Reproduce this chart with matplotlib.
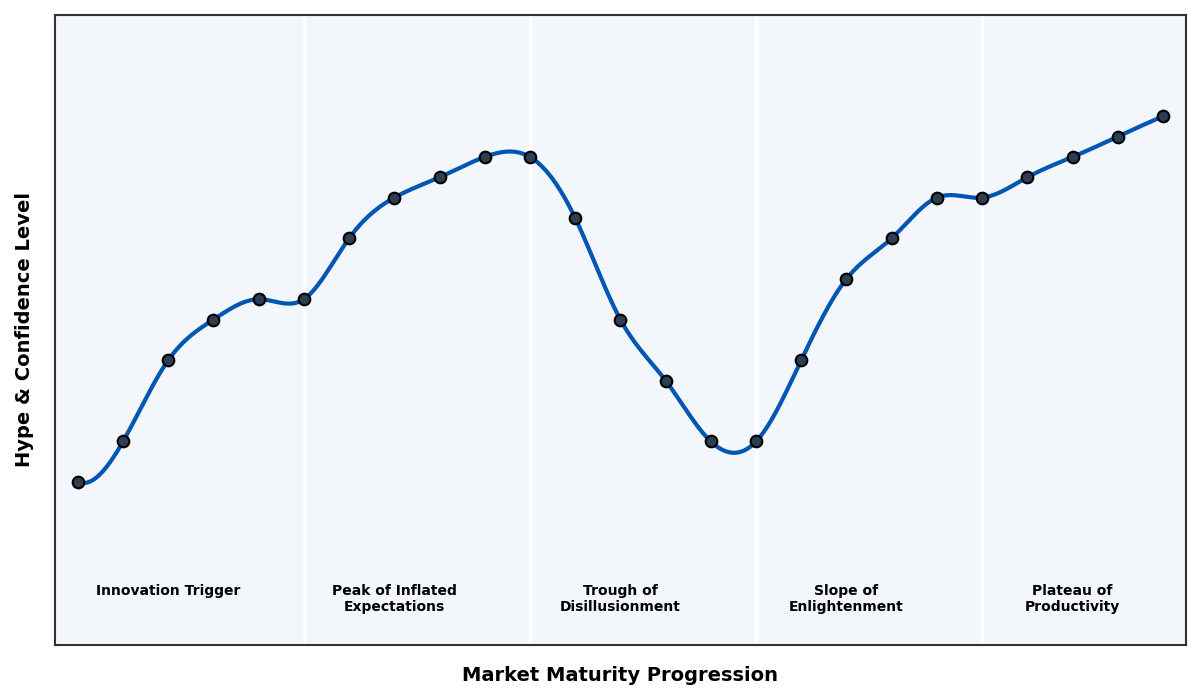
import numpy as np
import matplotlib
matplotlib.use("Agg")
from matplotlib import pyplot as plt

# stages of the hype cycle
stages = ["Innovation Trigger", "Peak of Inflated\nExpectations", "Trough of\nDisillusionment",
          "Slope of\nEnlightenment", "Plateau of\nProductivity"]
stage_centers = [2, 7, 12, 17, 22]
stage_bounds = [5, 10, 15, 20]

steps = list(range(25))
hype = [10, 20, 40, 50, 55, 55, 70, 80, 85, 90, 90, 75, 50, 35, 20,
        20, 40, 60, 70, 80, 80, 85, 90, 95, 100]


def smooth_curve(x, y, xs):
    # cubic spline with not-a-knot ends
    x = np.asarray(x, float)
    y = np.asarray(y, float)
    n = len(x)
    h = np.diff(x)
    A = np.zeros((n, n))
    b = np.zeros(n)
    A[0, 0], A[0, 1], A[0, 2] = h[1], -(h[0] + h[1]), h[0]
    A[-1, -3], A[-1, -2], A[-1, -1] = h[-1], -(h[-2] + h[-1]), h[-2]
    for i in range(1, n - 1):
        A[i, i - 1] = h[i - 1]
        A[i, i] = 2 * (h[i - 1] + h[i])
        A[i, i + 1] = h[i]
        b[i] = 3 * ((y[i + 1] - y[i]) / h[i] - (y[i] - y[i - 1]) / h[i - 1])
    c = np.linalg.solve(A, b)
    idx = np.clip(np.searchsorted(x, xs) - 1, 0, n - 2)
    dx = xs - x[idx]
    bb = (y[idx + 1] - y[idx]) / h[idx] - h[idx] * (2 * c[idx] + c[idx + 1]) / 3
    d = (c[idx + 1] - c[idx]) / (3 * h[idx])
    return y[idx] + bb * dx + c[idx] * dx ** 2 + d * dx ** 3


fig, ax = plt.subplots(figsize=(12, 7), dpi=100)
fig.subplots_adjust(left=0.046, right=0.988, top=0.979, bottom=0.079)
ax.set_facecolor("#f3f6fa")

for xb in stage_bounds:
    ax.axvline(xb, color="white", linewidth=2, zorder=1)

xs = np.linspace(steps[0], steps[-1], 600)
ax.plot(xs, smooth_curve(steps, hype, xs), color="#0057b3", linewidth=3, zorder=2)
ax.scatter(steps, hype, s=70, color="#2c3e50", edgecolor="black", linewidth=1.5, zorder=3)

for cx, name in zip(stage_centers, stages):
    ax.text(cx, -15, name, ha="center", va="top", fontsize=10, fontweight="bold")

ax.set_xlim(-0.5, 24.5)
ax.set_ylim(-30, 125)
ax.set_xticks([])
ax.set_yticks([])
for sp in ax.spines.values():
    sp.set_color("#333333")
    sp.set_linewidth(1.5)

ax.set_xlabel("Market Maturity Progression", fontsize=14, fontweight="bold", labelpad=15)
ax.set_ylabel("Hype & Confidence Level", fontsize=14, fontweight="bold", labelpad=15)

fig.savefig("out.png")
